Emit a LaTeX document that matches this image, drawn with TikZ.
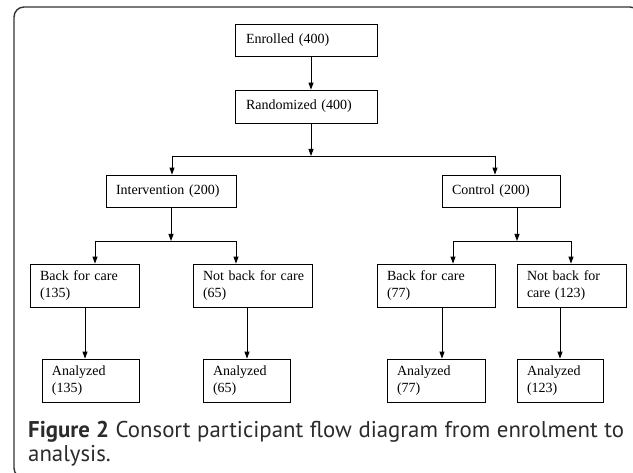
\documentclass[tikz,border=0pt]{standalone}
\usepackage{fontspec}
\setmainfont{Liberation Serif}
\newfontfamily\capfont{PT Sans}
\usetikzlibrary{arrows.meta}
\definecolor{frame}{HTML}{333333}
\definecolor{captext}{HTML}{2B2B2B}
\begin{document}
\begin{tikzpicture}[x=1pt,y=-1pt,
  box/.style={draw, line width=0.8pt, inner xsep=10pt, inner ysep=0pt, align=left,
    font=\fontsize{14}{17.5}\selectfont},
  arr/.style={line width=0.9pt, -{Triangle[width=5pt,length=7pt]}},
  ln/.style={line width=0.9pt}]
\useasboundingbox (0,0) rectangle (633,473);
\begin{scope}
\clip (0,0) rectangle (633,473);
\draw[line width=1.4pt, color=frame, rounded corners=10pt] (40,478) -- (14,478) -- (14,7) -- (640,7) -- (640,30);
\end{scope}
% boxes
\node[box, minimum width=142pt, minimum height=32pt, text width=120pt] (enr) at (306,40) {Enrolled (400)};
\node[box, minimum width=142pt, minimum height=33pt, text width=120pt] (rand) at (306,106.5) {Randomized (400)};
\node[box, minimum width=130pt, minimum height=32pt, text width=110pt] (int) at (171,191) {Intervention (200)};
\node[box, minimum width=118pt, minimum height=32pt, text width=98pt] (con) at (501,191) {Control (200)};
\node[box, minimum width=109pt, minimum height=43pt, text width=89pt] (b1) at (84.5,285.5) {Back for care\\(135)};
\node[box, minimum width=119pt, minimum height=43pt, text width=99pt] (n1) at (252.5,285.5) {\mbox{Not back for care}\\(65)};
\node[box, minimum width=118pt, minimum height=43pt, text width=98pt] (b2) at (436,285.5) {Back for care\\(77)};
\node[box, minimum width=109pt, minimum height=43pt, text width=89pt] (n2) at (571.5,285.5) {Not back for\\care (123)};
\node[box, minimum width=97pt, minimum height=43pt, text width=77pt] (a1) at (90.5,380.5) {Analyzed\\(135)};
\node[box, minimum width=87pt, minimum height=43pt, text width=67pt] (a2) at (246.5,380.5) {Analyzed\\(65)};
\node[box, minimum width=98pt, minimum height=43pt, text width=78pt] (a3) at (436,380.5) {Analyzed\\(77)};
\node[box, minimum width=86pt, minimum height=43pt, text width=66pt] (a4) at (560,380.5) {Analyzed\\(123)};
% junction coordinates
\coordinate (s0) at (311,156);
\coordinate (s0L) at (172,156);
\coordinate (s0R) at (495,156);
\coordinate (s1) at (171,241);
\coordinate (s1L) at (95,241);
\coordinate (s1R) at (236,241);
\coordinate (s2) at (517,241);
\coordinate (s2L) at (453,241);
\coordinate (s2R) at (571,241);
\coordinate (v1) at (85,330);
\coordinate (v2) at (247,330);
\coordinate (v3) at (442,330);
\coordinate (v4) at (560,330);
% connectors
\draw[arr] (enr.south -| s0) -- (rand.north -| s0);
\draw[arr] (rand.south -| s0) -- (s0);
\draw[ln] (s0L) -- (s0R);
\draw[arr] (s0L) -- (int.north -| s0L);
\draw[arr] (s0R) -- (con.north -| s0R);
\draw[arr] (int.south -| s1) -- (s1);
\draw[ln] (s1L) -- (s1R);
\draw[arr] (s1L) -- (b1.north -| s1L);
\draw[arr] (s1R) -- (n1.north -| s1R);
\draw[arr] (con.south -| s2) -- (s2);
\draw[ln] (s2L) -- (s2R);
\draw[arr] (s2L) -- (b2.north -| s2L);
\draw[arr] (s2R) -- (n2.north -| s2R);
\draw[arr] (b1.south -| v1) -- (a1.north -| v1);
\draw[arr] (n1.south -| v2) -- (a2.north -| v2);
\draw[arr] (b2.south -| v3) -- (a3.north -| v3);
\draw[arr] (n2.south -| v4) -- (a4.north -| v4);
% caption
\node[anchor=north west, inner sep=0pt, text width=596pt, align=justify,
  font=\capfont\fontsize{22.8}{24}\selectfont, text=captext] (cap) at (28,421)
  {\textbf{Figure 2} Consort participant flow diagram from enrolment to\linebreak analysis.};
\end{tikzpicture}
\end{document}
